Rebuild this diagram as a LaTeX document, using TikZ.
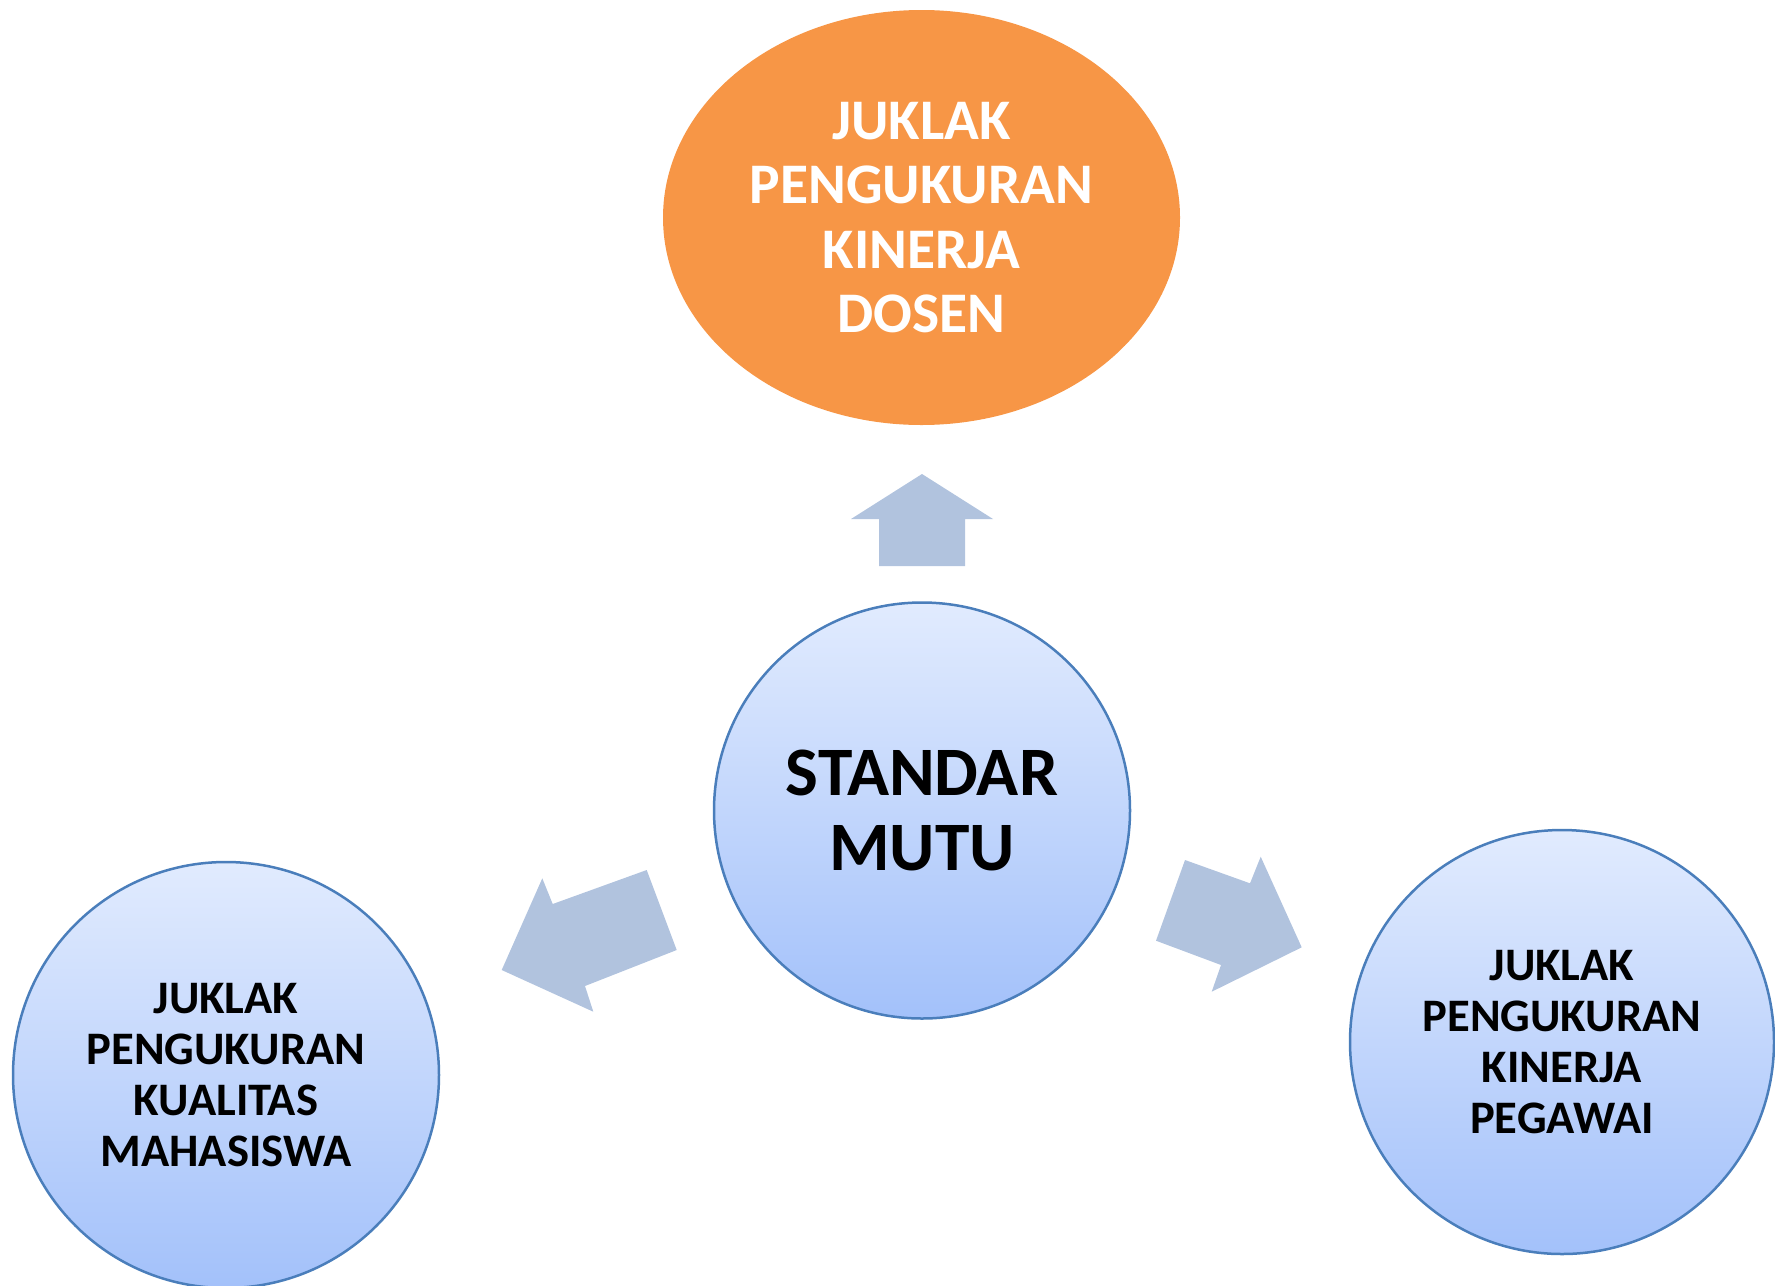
\documentclass[tikz,border=0pt]{standalone}
\usepackage{fontspec}
\setmainfont{Carlito}
\usetikzlibrary{shapes.geometric}
\definecolor{orangefill}{HTML}{F79646}
\definecolor{circborder}{HTML}{4A7EBB}
\definecolor{gradtop}{HTML}{E1EBFE}
\definecolor{gradbot}{HTML}{A3C1FA}
\definecolor{arrowfill}{HTML}{B1C3DE}
\tikzset{
  bluecirc/.style={circle, draw=circborder, line width=1.25pt, top color=gradtop, bottom color=gradbot, inner sep=0pt, align=center, text=black},
  topoval/.style={ellipse, fill=orangefill, inner sep=0pt, align=center, text=white},
  blockarrow/.style={fill=arrowfill, draw=none},
  smalltext/.style={font=\bfseries\fontsize{23.3}{25.6}\selectfont},
  midtext/.style={font=\bfseries\fontsize{28.7}{32.3}\selectfont},
  bigtext/.style={font=\bfseries\fontsize{34.7}{37.8}\selectfont}
}
\begin{document}
\begin{tikzpicture}[x=0.5pt,y=-0.5pt]
\useasboundingbox (0,0) rectangle (1775,1285);
\node[topoval, midtext, minimum width=258.5pt, minimum height=207.5pt] (dosen) at (921.5,217.5) {JUKLAK\\PENGUKURAN\\KINERJA\\DOSEN};
\node[bluecirc, bigtext, minimum size=208pt] (standar) at (922,810.5) {STANDAR\\MUTU};
\node[bluecirc, smalltext, minimum size=213pt] (mhs) at (226,1075) {JUKLAK\\PENGUKURAN\\KUALITAS\\MAHASISWA};
\node[bluecirc, smalltext, minimum size=212pt] (pegawai) at (1562,1042) {JUKLAK\\PENGUKURAN\\KINERJA\\PEGAWAI};
% up arrow
\fill[blockarrow] (922,474) -- (993,519) -- (965,519) -- (965,566) -- (879,566) -- (879,519) -- (851,519) -- cycle;
% left arrow
\fill[blockarrow] (501.7,970) -- (542.3,878.3) -- (552.7,904) -- (646.7,870) -- (676.7,950) -- (585,986) -- (593.3,1011.7) -- cycle;
% right arrow
\fill[blockarrow] (1301.7,947.3) -- (1260.7,856.7) -- (1250,883.3) -- (1185,860) -- (1156,940.7) -- (1221,965) -- (1211.7,991.7) -- cycle;
\end{tikzpicture}
\end{document}
